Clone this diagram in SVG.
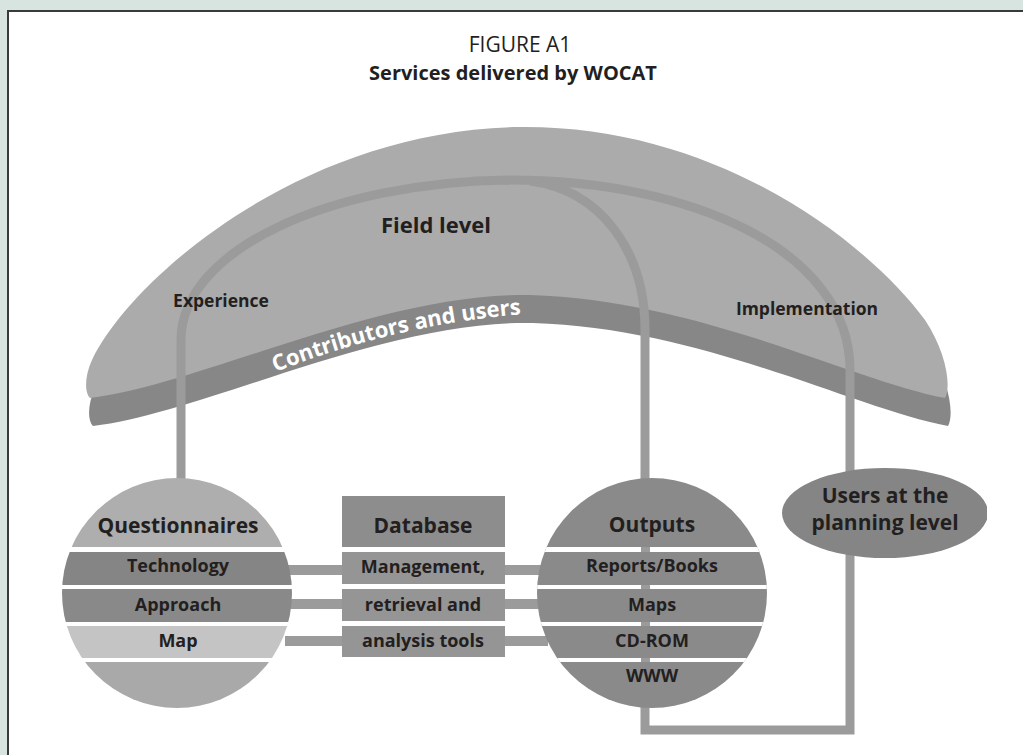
<svg xmlns="http://www.w3.org/2000/svg" width="1023" height="755" viewBox="0 0 1023 755">
<defs>
<style>
text{font-family:"Open Sans","Liberation Sans",sans-serif;fill:#231f20;text-anchor:middle}
.b{font-weight:700}
.hd{font-size:21px;font-weight:700}
.bd{font-size:18px;font-weight:700}
.lb{font-size:17.5px;font-weight:700}
.ln{fill:none;stroke:#9b9b9b;stroke-width:9;stroke-linejoin:miter}
.gap{fill:#ffffff}
</style>
<clipPath id="qc"><circle cx="177" cy="593" r="115"/></clipPath>
<clipPath id="oc"><circle cx="652" cy="593" r="115"/></clipPath>
<clipPath id="uc"><rect x="700" y="440" width="287" height="140"/></clipPath>
<path id="umb" d="M90,398 C84,392 85,375 92,360 C130,280 300,130 520,127 C720,125 870,245 925,320 C945,350 952,385 945,398 C850,380 700,300 530,295 C380,292 200,385 90,398 Z"/>
<path id="cpath" d="M268,375 C330,350 430,318 545,313"/>
</defs>
<rect x="0" y="0" width="1023" height="755" fill="#d8e4e0"/>
<rect x="8" y="11" width="1030" height="760" fill="#ffffff" stroke="#3a3a3a" stroke-width="2"/>
<g id="title">
<text x="520" y="52" style="font-size:21px">FIGURE A1</text>
<text x="513" y="80" class="b" style="font-size:20px">Services delivered by WOCAT</text>
</g>
<g id="field-level">
<use href="#umb" transform="translate(3,28)" fill="#878787"/>
<use href="#umb" fill="#ababab"/>
<text x="436" y="233" class="b" style="font-size:22px">Field level</text>
<text class="b" style="font-size:22px;fill:#ffffff;text-anchor:start"><textPath href="#cpath" startOffset="8">Contributors and users</textPath></text>
</g>
<g id="connectors">
<path class="ln" d="M181,480 L181,340 C181,250 330,182 510,180 C690,180 850,250 850,370"/>
<path class="ln" d="M530,181 C600,190 645,250 645,330 L645,730 L850,730 L850,370"/>
<path class="ln" style="stroke-width:10" d="M285,570 H345 M285,604 H345 M285,641 H345 M500,570 H548 M500,604 H548 M500,641 H548"/>
<text x="221" y="307" class="lb">Experience</text>
<text x="807" y="315" class="lb">Implementation</text>
</g>
<g id="questionnaires">
<g clip-path="url(#qc)">
<rect x="60" y="476" width="240" height="71" fill="#aeaeae"/>
<rect x="60" y="547" width="240" height="5" class="gap"/>
<rect x="60" y="552" width="240" height="33" fill="#858585"/>
<rect x="60" y="585" width="240" height="4" class="gap"/>
<rect x="60" y="589" width="240" height="33" fill="#898989"/>
<rect x="60" y="622" width="240" height="4" class="gap"/>
<rect x="60" y="626" width="240" height="32" fill="#c4c4c4"/>
<rect x="60" y="658" width="240" height="4" class="gap"/>
<rect x="60" y="662" width="240" height="50" fill="#a9a9a9"/>
</g>
<text x="178" y="533" class="hd">Questionnaires</text>
<text x="178" y="572" class="bd">Technology</text>
<text x="178" y="611" class="bd">Approach</text>
<text x="178" y="647" class="bd">Map</text>
</g>
<g id="database">
<rect x="342" y="496" width="163" height="51" fill="#8d8d8d"/>
<rect x="342" y="552" width="163" height="32" fill="#959595"/>
<rect x="342" y="589" width="163" height="32" fill="#959595"/>
<rect x="342" y="626" width="163" height="31" fill="#959595"/>
<text x="423" y="533" class="hd">Database</text>
<text x="423" y="573" class="bd">Management,</text>
<text x="423" y="611" class="bd">retrieval and</text>
<text x="423" y="647" class="bd">analysis tools</text>
</g>
<g id="outputs">
<circle cx="652" cy="593" r="115" fill="#8a8a8a"/>
<g clip-path="url(#oc)">
<rect x="535" y="547" width="235" height="5" class="gap"/>
<rect x="535" y="585" width="235" height="4" class="gap"/>
<rect x="535" y="622" width="235" height="4" class="gap"/>
<rect x="535" y="658" width="235" height="4" class="gap"/>
</g>
<g fill="#9b9b9b">
<rect x="641" y="547" width="9" height="5"/>
<rect x="641" y="585" width="9" height="4"/>
<rect x="641" y="622" width="9" height="4"/>
<rect x="641" y="658" width="9" height="4"/>
</g>
<text x="652" y="532" class="hd">Outputs</text>
<text x="652" y="572" class="bd">Reports/Books</text>
<text x="652" y="611" class="bd">Maps</text>
<text x="652" y="647" class="bd">CD-ROM</text>
<text x="652" y="682" class="bd">WWW</text>
</g>
<g id="users-planning">
<ellipse cx="885" cy="513" rx="103" ry="45" fill="#858585" clip-path="url(#uc)"/>
<text x="885" y="503" class="hd">Users at the</text>
<text x="885" y="530" class="hd">planning level</text>
</g>
</svg>
